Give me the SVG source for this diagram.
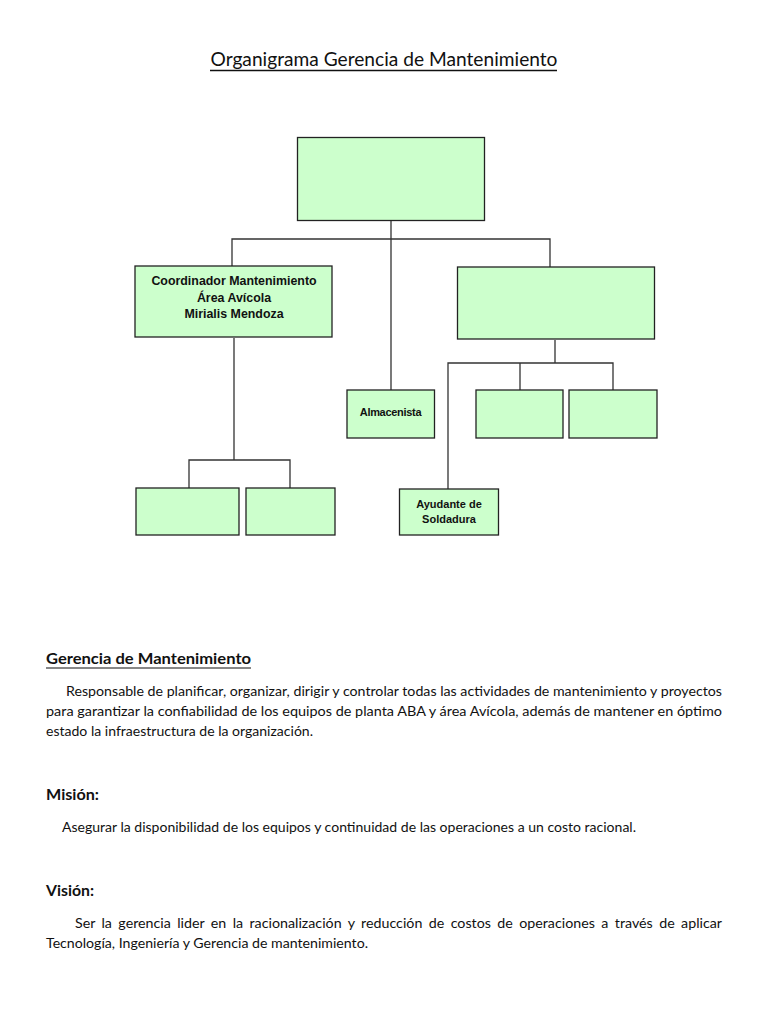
<svg xmlns="http://www.w3.org/2000/svg" width="768" height="1024" viewBox="0 0 768 1024">
<style>
.box{fill:#ccffcc;stroke:#222;stroke-width:1.3}
.ln{fill:none;stroke:#333;stroke-width:1.3}
.bl{font-family:"Liberation Sans",Arial,sans-serif;font-weight:bold;fill:#111;text-anchor:middle}
.tx{font-family:Lato,"Open Sans",sans-serif;fill:#111;font-size:14px}
.hd{font-family:Lato,"Open Sans",sans-serif;fill:#111;font-weight:bold;font-size:15px}
</style>
<rect width="768" height="1024" fill="#fff"/>
<text x="384" y="66" class="tx" style="font-size:18.5px" text-anchor="middle" textLength="347" lengthAdjust="spacingAndGlyphs">Organigrama Gerencia de Mantenimiento</text>
<line x1="210" y1="70.5" x2="557" y2="70.5" stroke="#111" stroke-width="1.3"/>
<g id="connectors">
<path class="ln" d="M391 220V390M232 267V239H550V268"/>
<path class="ln" d="M234 338V460M189 488V460H290V488"/>
<path class="ln" d="M555 340V363M448 490V363H613V390M520 363V390"/>
</g>
<g id="gerencia"><rect class="box" x="297.5" y="137.5" width="187" height="83"/></g>
<g id="coordinador"><rect class="box" x="135" y="266" width="197" height="71"/>
<text class="bl" font-size="12.4" x="234" y="285">Coordinador Mantenimiento</text>
<text class="bl" font-size="12.4" x="234" y="301.5">Área Avícola</text>
<text class="bl" font-size="12.4" x="234" y="318">Mirialis Mendoza</text></g>
<g id="jefe-derecha"><rect class="box" x="457.5" y="267" width="197" height="72"/></g>
<g id="almacenista"><rect class="box" x="347" y="390" width="87.5" height="48"/>
<text class="bl" font-size="11" x="390.5" y="416" letter-spacing="-0.3">Almacenista</text></g>
<g id="caja-r1"><rect class="box" x="476" y="390" width="87" height="48"/></g>
<g id="caja-r2"><rect class="box" x="569" y="390" width="88" height="48"/></g>
<g id="caja-l1"><rect class="box" x="136" y="488" width="103" height="47"/></g>
<g id="caja-l2"><rect class="box" x="246" y="488" width="89" height="47"/></g>
<g id="ayudante"><rect class="box" x="399.5" y="489" width="99" height="46"/>
<text class="bl" font-size="11" x="449" y="508">Ayudante de</text>
<text class="bl" font-size="11" x="449" y="523">Soldadura</text></g>
<text x="46" y="664" class="hd" textLength="205" lengthAdjust="spacingAndGlyphs">Gerencia de Mantenimiento</text>
<line x1="46" y1="668" x2="251" y2="668" stroke="#111" stroke-width="1.2"/>
<text x="66" y="696" class="tx" textLength="656" lengthAdjust="spacingAndGlyphs">Responsable de planificar, organizar, dirigir y controlar todas las actividades de mantenimiento y proyectos</text>
<text x="46" y="716" class="tx" textLength="676" lengthAdjust="spacingAndGlyphs">para garantizar la confiabilidad de los equipos de planta ABA y área Avícola, además de mantener en óptimo</text>
<text x="46" y="736" class="tx" textLength="267" lengthAdjust="spacingAndGlyphs">estado la infraestructura de la organización.</text>
<text x="46" y="800" class="hd" textLength="53" lengthAdjust="spacingAndGlyphs">Misión:</text>
<text x="62" y="832" class="tx" textLength="574" lengthAdjust="spacingAndGlyphs">Asegurar la disponibilidad de los equipos y continuidad de las operaciones a un costo racional.</text>
<text x="46" y="896" class="hd" textLength="48" lengthAdjust="spacingAndGlyphs">Visión:</text>
<text x="75" y="928" class="tx" word-spacing="2.7" textLength="647" lengthAdjust="spacingAndGlyphs">Ser la gerencia lider en la racionalización y reducción de costos de operaciones a través de aplicar</text>
<text x="46" y="948" class="tx" textLength="322" lengthAdjust="spacingAndGlyphs">Tecnología, Ingeniería y Gerencia de mantenimiento.</text>
</svg>
